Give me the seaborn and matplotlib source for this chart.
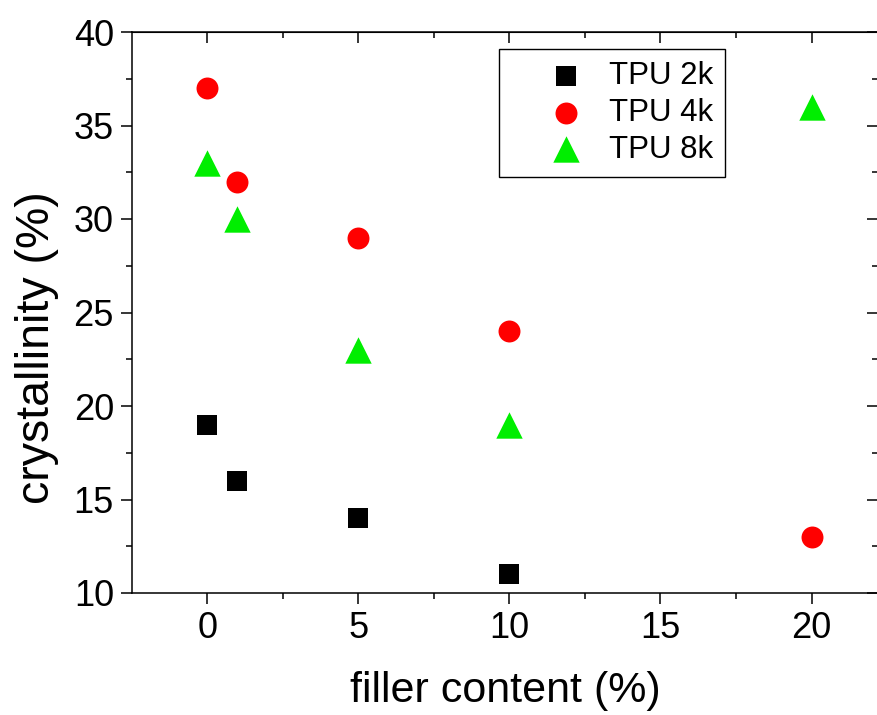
import matplotlib
matplotlib.use("Agg")
import matplotlib.pyplot as plt
from matplotlib.ticker import MultipleLocator
import seaborn as sns
import pandas as pd

series = ["TPU 2k", "TPU 4k", "TPU 8k"]
x_2k = [0, 1, 5, 10]
y_2k = [19, 16, 14, 11]
x_4k = [0, 1, 5, 10, 20]
y_4k = [37, 32, 29, 24, 13]
x_8k = [0, 1, 5, 10, 20]
y_8k = [33, 30, 23, 19, 36]
colors = {"TPU 2k": "#000000", "TPU 4k": "#ff0000", "TPU 8k": "#00ee00"}
markers = {"TPU 2k": "s", "TPU 4k": "o", "TPU 8k": "^"}
sizes = {"TPU 2k": 14.4, "TPU 4k": 15.8, "TPU 8k": 19.0}

df = pd.concat([
    pd.DataFrame({"filler": x_2k, "cryst": y_2k, "series": series[0]}),
    pd.DataFrame({"filler": x_4k, "cryst": y_4k, "series": series[1]}),
    pd.DataFrame({"filler": x_8k, "cryst": y_8k, "series": series[2]}),
])

sns.set_style("ticks")
plt.rcParams["font.family"] = ["Liberation Sans", "DejaVu Sans"]
plt.rcParams["text.color"] = "black"
plt.rcParams["axes.labelcolor"] = "black"
plt.rcParams["xtick.color"] = "black"
plt.rcParams["ytick.color"] = "black"
plt.rcParams["axes.edgecolor"] = "black"

fig = plt.figure(figsize=(8.78, 7.15), dpi=100)
W, H = 878, 715
ax = fig.add_axes([132 / W, 1 - 593 / H, (878 - 132) / W, (593 - 32) / H])

for s in series:
    sub = df[df["series"] == s]
    sns.scatterplot(data=sub, x="filler", y="cryst", color=colors[s],
                    marker=markers[s], s=sizes[s] ** 2, linewidth=0,
                    label=s, ax=ax, zorder=3)

ax.set_xlim(-2.49, 22.2)
ax.set_ylim(10, 40)
ax.xaxis.set_major_locator(MultipleLocator(5))
ax.xaxis.set_minor_locator(MultipleLocator(2.5))
ax.yaxis.set_major_locator(MultipleLocator(5))
ax.yaxis.set_minor_locator(MultipleLocator(2.5))
ax.set_xticks([0, 5, 10, 15, 20])

for sp in ax.spines.values():
    sp.set_linewidth(1.1)
    sp.set_color("black")

ax.tick_params(which="major", direction="out", length=8, width=1.1,
               labelsize=26, pad=5, top=False, right=False, colors="black")
ax.tick_params(which="minor", direction="out", length=4, width=1.1,
               top=False, right=False, colors="black")
ax2 = ax.secondary_xaxis("top")
ax2.set_xticks([0, 5, 10, 15, 20])
ax2.xaxis.set_minor_locator(MultipleLocator(2.5))
ax2.tick_params(which="major", direction="in", length=8, width=1.1, labeltop=False)
ax2.tick_params(which="minor", direction="in", length=4, width=1.1)
ax3 = ax.secondary_yaxis("right")
ax3.set_yticks([10, 15, 20, 25, 30, 35, 40])
ax3.yaxis.set_minor_locator(MultipleLocator(2.5))
ax3.tick_params(which="major", direction="in", length=8, width=1.1, labelright=False)
ax3.tick_params(which="minor", direction="in", length=4, width=1.1)

ax.set_xlabel("filler content (%)", fontsize=31, labelpad=18, color="black")
ax.set_ylabel("crystallinity (%)", fontsize=33.5, color="black")
ax.yaxis.set_label_coords(-0.098, 0.437)

handles, labels = ax.get_legend_handles_labels()
leg = ax.legend(handles, labels, loc="upper left",
                bbox_to_anchor=(499 / W, 1 - 49 / H), bbox_transform=fig.transFigure,
                fontsize=22.5, frameon=True, fancybox=False, edgecolor="black",
                framealpha=1, borderpad=0.38, handlelength=3.5, handletextpad=-0.35,
                labelspacing=0.22, borderaxespad=0)
leg.get_frame().set_linewidth(1.0)

fig.savefig("out.png", dpi=100)
